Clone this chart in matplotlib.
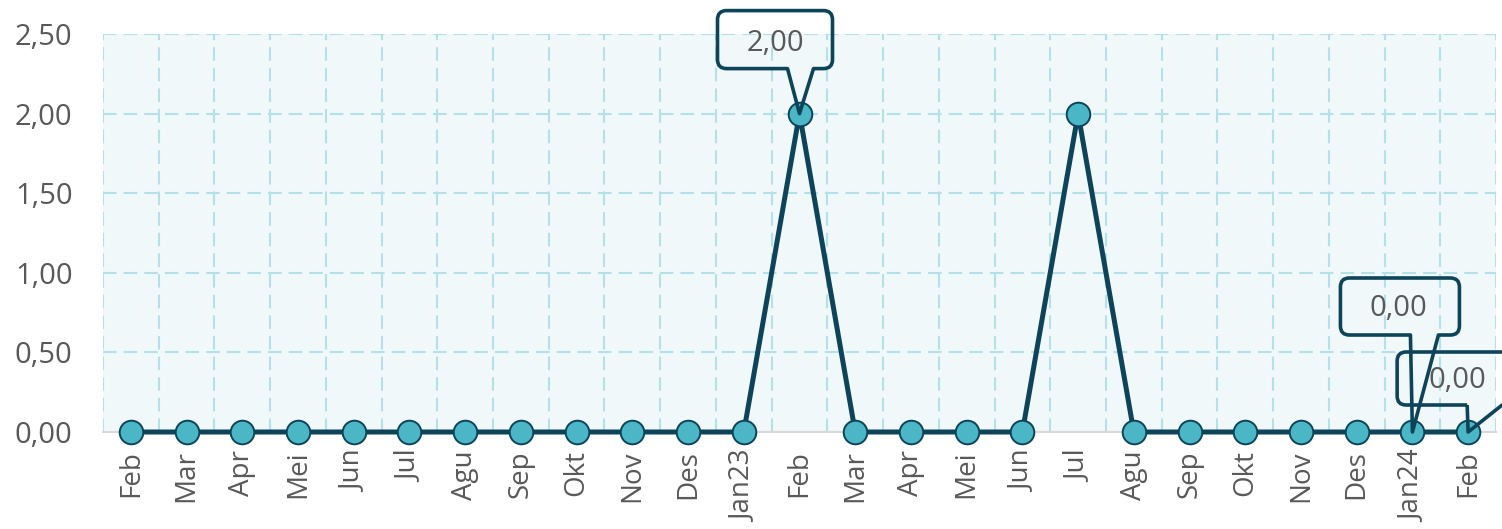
import matplotlib
matplotlib.use("Agg")
import matplotlib.pyplot as plt
import matplotlib.transforms as mtransforms
from matplotlib.path import Path
from matplotlib.patches import PathPatch
import numpy as np

months = ["Feb", "Mar", "Apr", "Mei", "Jun", "Jul", "Agu", "Sep", "Okt", "Nov", "Des",
          "Jan23", "Feb", "Mar", "Apr", "Mei", "Jun", "Jul", "Agu", "Sep", "Okt", "Nov",
          "Des", "Jan24", "Feb"]
values = [0, 0, 0, 0, 0, 0, 0, 0, 0, 0, 0,
          0, 2, 0, 0, 0, 0, 2, 0, 0, 0, 0,
          0, 0, 0]
y_ticks = [0.0, 0.5, 1.0, 1.5, 2.0, 2.5]
callout_idx = [12, 23, 24]

plt.rcParams['font.family'] = ['Open Sans', 'DejaVu Sans']

W, H = 1502, 529
fig = plt.figure(figsize=(W / 100, H / 100), dpi=100)
ax = fig.add_axes([103 / W, 1 - 432 / H, (1496 - 103) / W, (432 - 34) / H])

x = np.arange(len(months))
line_c = "#0E4459"
face_c = "#4AB6C6"
grid_c = "#B4E0E7"
txt_c = "#595959"

ax.set_facecolor("#F0F8FA")
ax.plot(x, values, color=line_c, lw=3.6, marker="o", ms=17, mfc=face_c, mec=line_c,
        mew=1.4, clip_on=False, zorder=5, solid_joinstyle="miter")

ax.set_xlim(-0.5, len(months) - 0.5)
ax.set_ylim(0, 2.5)
ax.set_yticks(y_ticks)
ax.set_yticklabels([f"{v:.2f}".replace(".", ",") for v in y_ticks], fontsize=21, color=txt_c)
ax.set_xticks(x)
ax.set_xticklabels(months, rotation=90, fontsize=20, color=txt_c)
ax.tick_params(axis="both", which="both", length=0)
ax.tick_params(axis="y", pad=22)
ax.tick_params(axis="x", pad=13)

ax.grid(False)
for v in y_ticks[1:]:
    ax.axhline(v, color=grid_c, lw=1.5, ls=(0, (6.5, 3.4)), zorder=1)
for b in np.arange(-0.5, len(months), 1.0):
    ax.axvline(b, color=grid_c, lw=1.5, ls=(0, (6.5, 3.4)), zorder=1)

for s in ["top", "right", "left"]:
    ax.spines[s].set_visible(False)
ax.spines["bottom"].set_color("#D9D9D9")
ax.spines["bottom"].set_linewidth(1.5)

# callouts: (box left, box right, box bottom, box top, wedge left, wedge right, text x, text y) in px offsets
shapes = {
    12: (-82, 33, 45, 103, -12, 14, -24, 70),
    23: (-72, 47, 97, 154, -2, 26, -14, 124),
    24: (-71, 90, 27, 80, -1, 34, -11, 52),
}
r = 9
for i in callout_idx:
    bl, br, bb, bt, wl, wr, tx, ty = shapes[i]
    verts = [
        (wl, bb), (0, 0), (wr, bb),
        (br - r, bb), (br, bb), (br, bb + r),
        (br, bt - r), (br, bt), (br - r, bt),
        (bl + r, bt), (bl, bt), (bl, bt - r),
        (bl, bb + r), (bl, bb), (bl + r, bb),
        (wl, bb),
    ]
    codes = [Path.MOVETO, Path.LINETO, Path.LINETO,
             Path.LINETO, Path.CURVE3, Path.CURVE3,
             Path.LINETO, Path.CURVE3, Path.CURVE3,
             Path.LINETO, Path.CURVE3, Path.CURVE3,
             Path.LINETO, Path.CURVE3, Path.CURVE3,
             Path.CLOSEPOLY]
    verts_in = [(a / 100, b / 100) for a, b in verts]
    trans = fig.dpi_scale_trans + mtransforms.ScaledTranslation(x[i], values[i], ax.transData)
    patch = PathPatch(Path(verts_in, codes), transform=trans, facecolor="none",
                      edgecolor=line_c, lw=2.6, clip_on=False, zorder=6, joinstyle="round")
    fig.add_artist(patch)
    fig.text(tx / 100, ty / 100, f"{values[i]:.2f}".replace(".", ","), transform=trans,
             ha="center", va="center", fontsize=21, color=txt_c, zorder=7)

fig.savefig("out.png", dpi=100)
